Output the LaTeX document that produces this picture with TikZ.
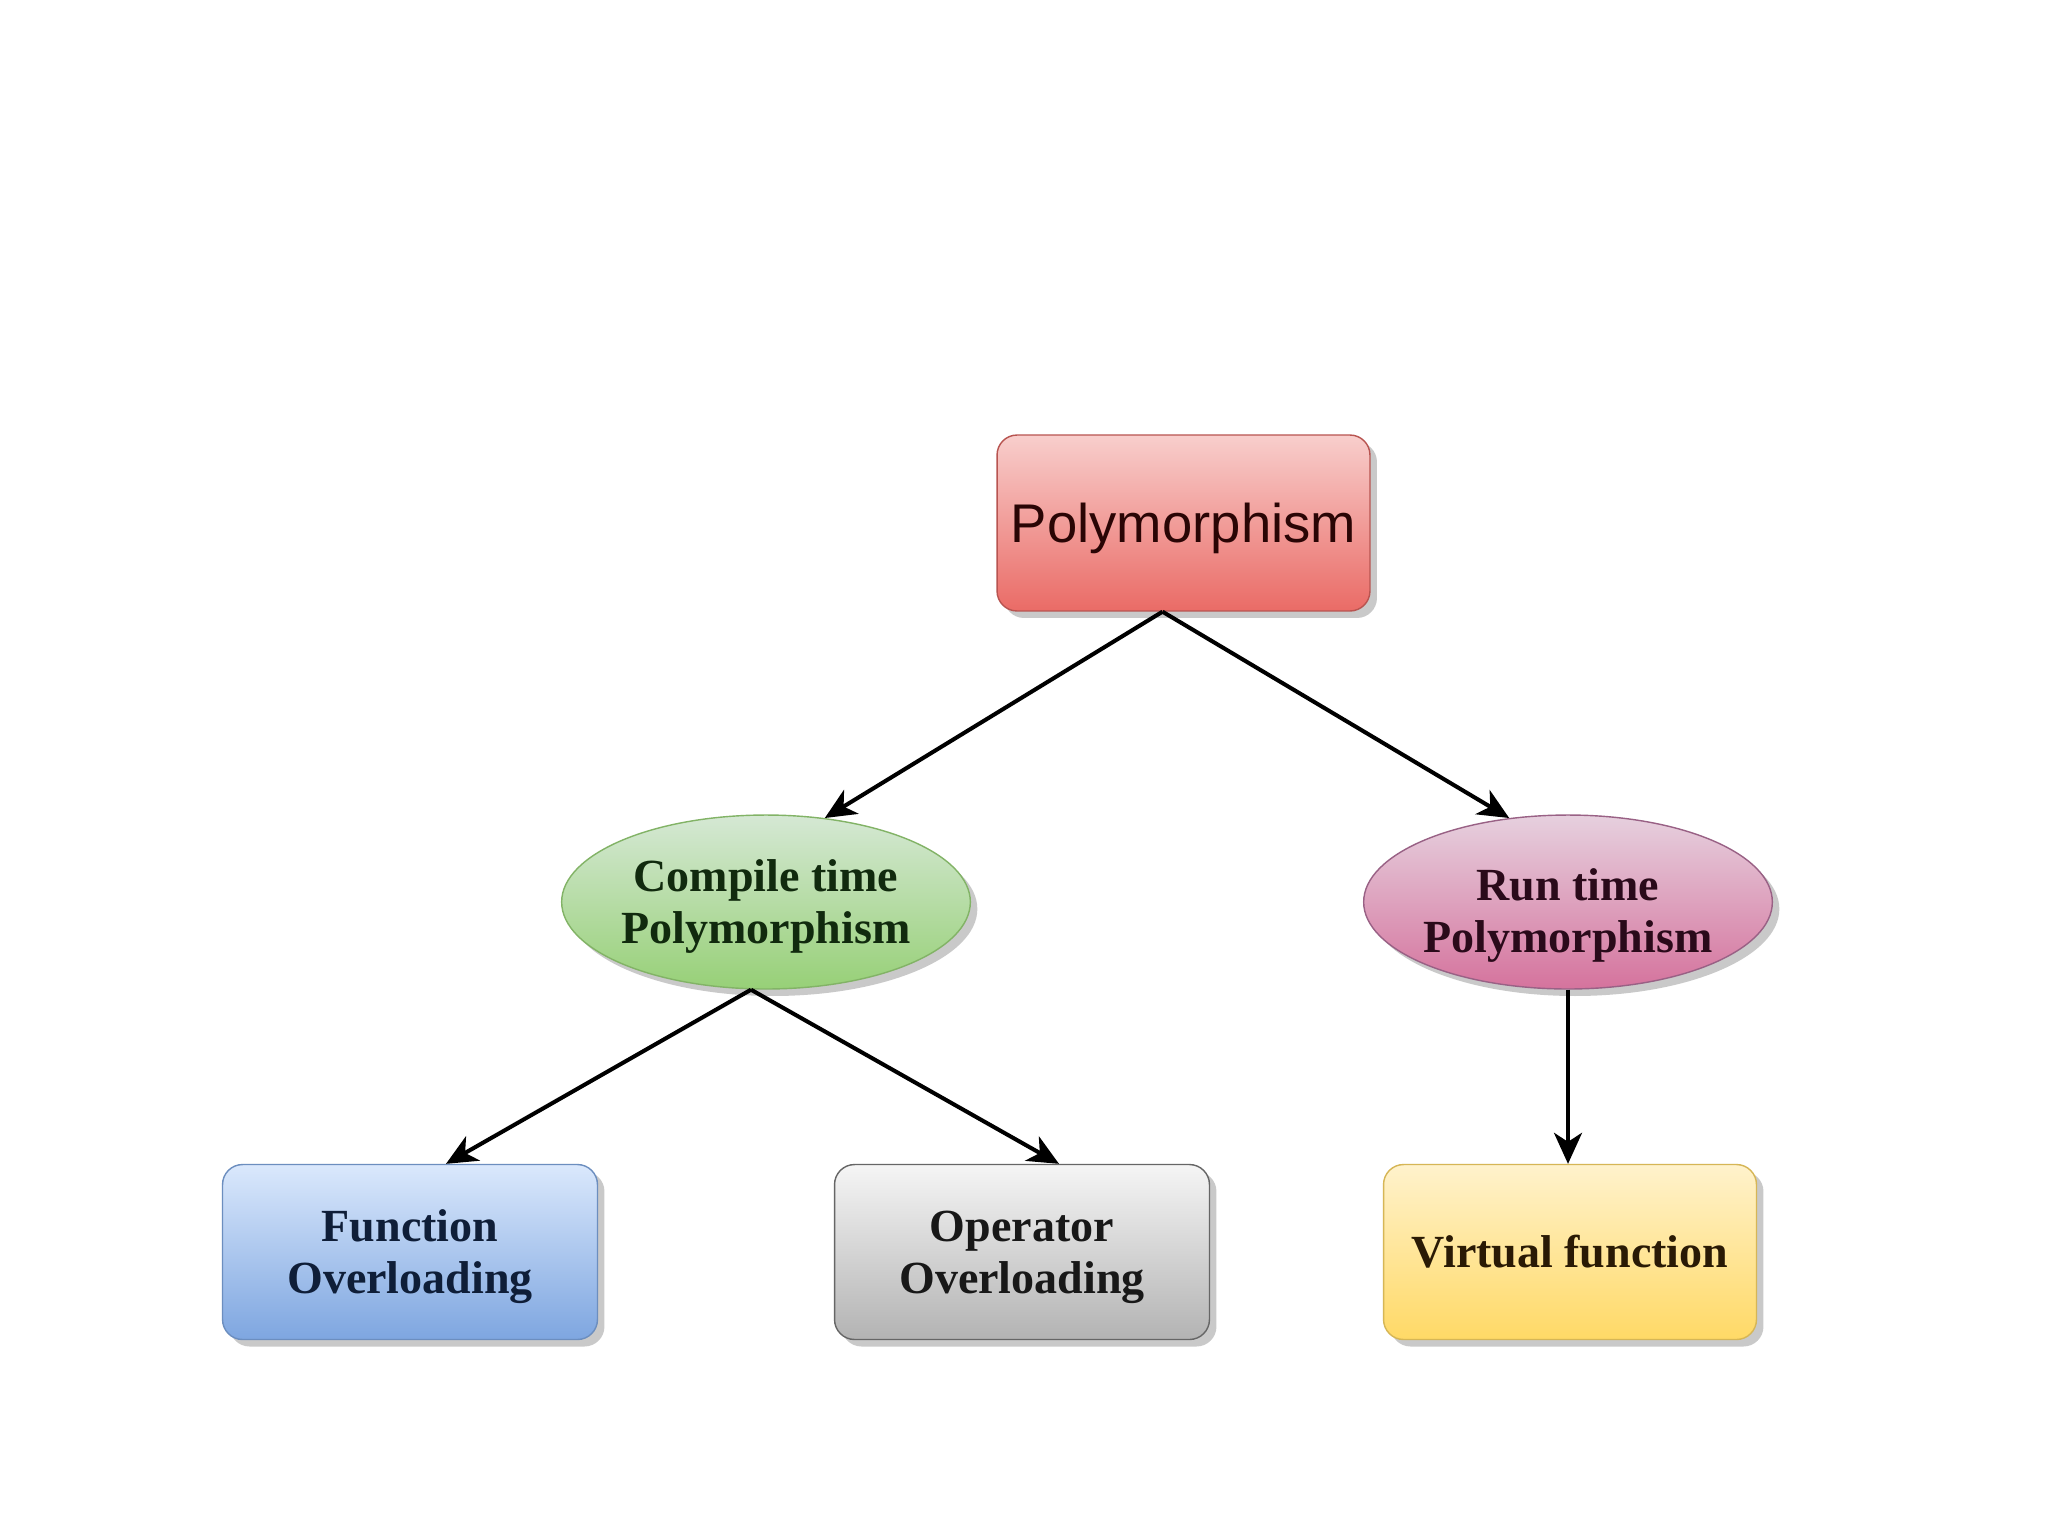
\documentclass[tikz,border=0pt]{standalone}
\usepackage{fontspec}
\setmainfont{Liberation Serif}
\setsansfont{Liberation Sans}
\usetikzlibrary{shapes.geometric,shadows,arrows.meta}
\definecolor{rtop}{HTML}{F8CECC}\definecolor{rbot}{HTML}{EA6B66}\definecolor{rstr}{HTML}{B85450}
\definecolor{gtop}{HTML}{D5E8D4}\definecolor{gbot}{HTML}{97D077}\definecolor{gstr}{HTML}{82B366}
\definecolor{ptop}{HTML}{E6D0DE}\definecolor{pbot}{HTML}{D5739D}\definecolor{pstr}{HTML}{996185}
\definecolor{btop}{HTML}{DAE8FC}\definecolor{bbot}{HTML}{7EA6E0}\definecolor{bstr}{HTML}{6C8EBF}
\definecolor{stop}{HTML}{F5F5F5}\definecolor{sbot}{HTML}{B3B3B3}\definecolor{sstr}{HTML}{666666}
\definecolor{ytop}{HTML}{FFF2CC}\definecolor{ybot}{HTML}{FFD966}\definecolor{ystr}{HTML}{D6B656}
\definecolor{txtp}{HTML}{2A0505}\definecolor{txtg}{HTML}{112A0E}\definecolor{txtr}{HTML}{2A0A1A}
\definecolor{txtb}{HTML}{0F1E38}\definecolor{txts}{HTML}{181818}\definecolor{txty}{HTML}{2A1A05}
\newcommand{\twol}[3]{\raisebox{#1}[\height][\depth]{\begin{tabular}{@{}c@{}}#2\\#3\end{tabular}}}
\newcommand{\onel}[2]{\raisebox{#1}[\height][\depth]{#2}}
\begin{document}
\begin{tikzpicture}[x=0.02cm,y=-0.02cm,
  shad/.style={drop shadow={shadow xshift=0.14cm,shadow yshift=-0.14cm,opacity=0.35,fill=black!60}},
  rbox/.style={rectangle,rounded corners=0.4cm,minimum width=7.5cm,minimum height=3.5cm,
    line width=0.8pt,shading=axis,shad,align=center,inner sep=0pt},
  ell/.style={ellipse,minimum width=8.08cm,minimum height=3.48cm,line width=0.8pt,
    shading=axis,shad,align=center,inner sep=0pt},
  serifb/.style={font=\fontsize{26.2}{29.5}\selectfont\bfseries},
  arr/.style={-{Stealth[length=0.62cm,width=0.56cm,inset=0.18cm]},line width=2.3pt,black}]
\fill[white] (0,0) rectangle (2048,1536);
\useasboundingbox (0,0) rectangle (2048,1536);
% nodes
\node[rbox,draw=rstr,top color=rtop,bottom color=rbot,minimum width=7.46cm,minimum height=3.52cm,
  font=\sffamily\fontsize{31}{34}\selectfont,text=txtp] (poly) at (1183.5,523) {\onel{-0.1cm}{Polymorphism}};
\node[ell,draw=gstr,top color=gtop,bottom color=gbot,serifb,text=txtg] (ct) at (766,902)
  {\twol{-0.1cm}{Compile time}{Polymorphism}};
\node[ell,draw=pstr,top color=ptop,bottom color=pbot,serifb,text=txtr] (rt) at (1568,902)
  {\twol{-0.29cm}{Run time}{Polymorphism}};
\node[rbox,draw=bstr,top color=btop,bottom color=bbot,serifb,text=txtb] (fo) at (410,1252)
  {\twol{-0.1cm}{Function}{Overloading}};
\node[rbox,draw=sstr,top color=stop,bottom color=sbot,serifb,text=txts] (oo) at (1022,1252)
  {\twol{-0.1cm}{Operator}{Overloading}};
\node[rbox,draw=ystr,top color=ytop,bottom color=ybot,minimum width=7.46cm,serifb,text=txty] (vt) at (1570,1252)
  {Virtual function};
% connector start points
\coordinate (p0) at ([xshift=-0.42cm]poly.south);
\coordinate (c0) at ([xshift=-0.3cm]ct.south);
% connectors
\draw[arr] (p0) -- (ct.55);
\draw[arr] (p0) -- (rt.125);
\draw[arr] (c0) -- ([xshift=0.72cm]fo.north);
\draw[arr] (c0) -- ([xshift=0.74cm]oo.north);
\draw[arr] (rt.south) -- (rt.south |- vt.north);
\end{tikzpicture}
\end{document}
